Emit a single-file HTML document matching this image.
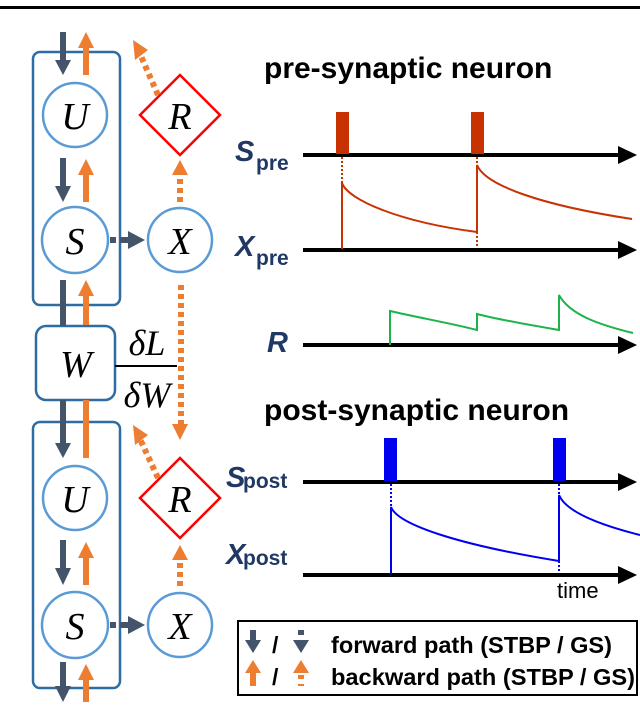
<!DOCTYPE html>
<html><head><meta charset="utf-8"><style>body{margin:0;background:#fff}svg{display:block}</style></head><body>
<svg width="640" height="707" viewBox="0 0 640 707" xmlns="http://www.w3.org/2000/svg" font-family="Liberation Sans, sans-serif">
<rect x="0" y="6" width="640" height="3" fill="#000"/>
<g fill="none" stroke="#2e6da4" stroke-width="2.5">
<rect x="33" y="52" width="87" height="253" rx="7"/>
<rect x="33" y="422" width="87" height="266" rx="7"/>
<rect x="36" y="326" width="79" height="74" rx="10"/>
</g>
<g fill="#fff" stroke="#5b9bd5" stroke-width="2.5">
<circle cx="75" cy="115" r="32"/><circle cx="75" cy="240" r="33"/><circle cx="180" cy="240" r="32"/>
<circle cx="75" cy="498" r="32"/><circle cx="75" cy="625" r="33"/><circle cx="180" cy="625" r="32"/>
</g>
<g fill="#fff" stroke="#f00" stroke-width="2.5">
<polygon points="180,75 220,115 180,155 140,115"/>
<polygon points="180,458 220,498 180,538 140,498"/>
</g>
<g font-family="Liberation Serif, serif" font-style="italic" font-size="38" text-anchor="middle">
<text x="75" y="129">U</text><text x="75" y="254">S</text><text x="180" y="254">X</text><text x="180" y="129">R</text>
<text x="75" y="512">U</text><text x="75" y="639">S</text><text x="180" y="639">X</text><text x="180" y="512">R</text>
<text x="76" y="377">W</text>
<text x="147" y="355" font-size="36">δL</text><text x="147" y="407" font-size="36">δW</text>
</g>
<line x1="115" y1="366" x2="177" y2="366" stroke="#000" stroke-width="2"/>
<g fill="#44546a">
<rect x="60" y="32" width="6" height="30"/><polygon points="55,60 71,60 63,75"/>
<rect x="60" y="158" width="6" height="30"/><polygon points="55,186 71,186 63,202"/>
<rect x="60" y="280" width="6" height="46"/>
<rect x="60" y="400" width="6" height="45"/><polygon points="55,443 71,443 63,458"/>
<rect x="60" y="540" width="6" height="30"/><polygon points="55,568 71,568 63,585"/>
<rect x="60" y="662" width="6" height="26"/><polygon points="55,686 71,686 63,702"/>
<rect x="110" y="237" width="6" height="6"/><rect x="120" y="237" width="10" height="6"/><polygon points="128,231 128,249 145,240"/>
<rect x="110" y="622" width="6" height="6"/><rect x="120" y="622" width="10" height="6"/><polygon points="128,616 128,634 145,625"/>
</g>
<g fill="#ed7d31">
<rect x="83" y="46" width="6" height="29"/><polygon points="78,48 94,48 86,32"/>
<rect x="83" y="174" width="6" height="28"/><polygon points="78,175 94,175 86,159"/>
<rect x="83" y="295" width="6" height="30"/><polygon points="78,296 94,296 86,280"/>
<rect x="83" y="400" width="6" height="58"/>
<rect x="83" y="556" width="6" height="29"/><polygon points="78,558 94,558 86,542"/>
<rect x="83" y="677" width="6" height="25"/><polygon points="78,680 94,680 86,664"/>
<polygon points="172,175 188,175 180,160"/><polygon points="172,560 188,560 180,545"/>
<polygon points="172,424 188,424 180,440"/>
<polygon points="133,40 148,50 135,60"/><polygon points="133,425 148,435 135,445"/>
</g>
<g stroke="#ed7d31" stroke-width="6" fill="none" stroke-dasharray="5,4">
<line x1="180" y1="202" x2="180" y2="175"/>
<line x1="180" y1="586" x2="180" y2="560"/>
<line x1="181" y1="285" x2="181" y2="424"/>
<line x1="158" y1="95" x2="140" y2="54"/>
<line x1="158" y1="478" x2="140" y2="439"/>
</g>
<g font-weight="bold" font-size="30"><text x="264" y="78">pre-synaptic neuron</text><text x="264" y="420">post-synaptic neuron</text></g>
<g fill="#1f3864" font-weight="bold" font-style="italic">
<text x="235" y="161" font-size="29">S</text><text x="256" y="170" font-size="21" font-style="normal">pre</text>
<text x="235" y="256" font-size="29">X</text><text x="256" y="265" font-size="21" font-style="normal">pre</text>
<text x="267" y="352" font-size="29">R</text>
<text x="226" y="487" font-size="29">S</text><text x="243" y="488" font-size="21" font-style="normal">post</text>
<text x="226" y="564" font-size="29">X</text><text x="243" y="565" font-size="21" font-style="normal">post</text>
</g>
<g stroke="#000" stroke-width="4">
<line x1="303" y1="155" x2="622" y2="155"/><line x1="303" y1="250" x2="622" y2="250"/>
<line x1="303" y1="345" x2="622" y2="345"/><line x1="303" y1="482" x2="622" y2="482"/>
<line x1="303" y1="575" x2="622" y2="575"/>
</g>
<g fill="#000">
<polygon points="618,146 637,155 618,164"/><polygon points="618,241 637,250 618,259"/>
<polygon points="618,336 637,345 618,354"/><polygon points="618,473 637,482 618,491"/>
<polygon points="618,566 637,575 618,584"/>
</g>
<text x="557" y="598" font-size="22">time</text>
<g fill="#c83200"><rect x="336" y="112" width="13" height="42"/><rect x="471" y="112" width="13" height="42"/></g>
<g stroke="#c83200" fill="none" stroke-width="2">
<line x1="342" y1="157" x2="342" y2="183" stroke-dasharray="2,2"/>
<line x1="477" y1="157" x2="477" y2="165" stroke-dasharray="2,2"/>
<line x1="477" y1="232" x2="477" y2="248" stroke-dasharray="2,2"/>
<path d="M342,249 L342,183 C348,200 400,222 477,232 L477,165 C485,185 540,205 632,219"/>
</g>
<path d="M390,345 L390,311 C420,318 450,323 477,330 L477,314 C500,320 530,325 559,330 L559,295 C570,315 600,325 633,333" stroke="#1db34a" stroke-width="2" fill="none"/>
<g fill="#0000f0"><rect x="384" y="438" width="13" height="43"/><rect x="553" y="438" width="13" height="43"/></g>
<g stroke="#0000f0" fill="none" stroke-width="2">
<line x1="391" y1="484" x2="391" y2="507" stroke-dasharray="2,2"/>
<line x1="559" y1="484" x2="559" y2="495" stroke-dasharray="2,2"/>
<line x1="559" y1="561" x2="559" y2="573" stroke-dasharray="2,2"/>
<path d="M391,574 L391,507 C398,525 460,545 559,561 L559,495 C566,512 600,525 640,535"/>
</g>
<rect x="238" y="621" width="399" height="74" fill="none" stroke="#000" stroke-width="2"/>
<g fill="#44546a"><rect x="250" y="630" width="6" height="12"/><polygon points="245,640 261,640 253,653"/>
<rect x="298" y="630" width="6" height="5"/><polygon points="293,640 309,640 301,653"/></g>
<g fill="#ed7d31"><rect x="250" y="671" width="6" height="15"/><polygon points="245,673 261,673 253,660"/>
<polygon points="293,673 309,673 301,660"/><rect x="298" y="675" width="6" height="4"/><rect x="298" y="684" width="6" height="2"/></g>
<g font-weight="bold" font-size="23"><text x="272" y="653">/</text><text x="272" y="685">/</text>
<text x="331" y="653" textLength="281" lengthAdjust="spacingAndGlyphs">forward path (STBP / GS)</text><text x="331" y="685" textLength="304" lengthAdjust="spacingAndGlyphs">backward path (STBP / GS)</text></g>
</svg>
</body></html>
